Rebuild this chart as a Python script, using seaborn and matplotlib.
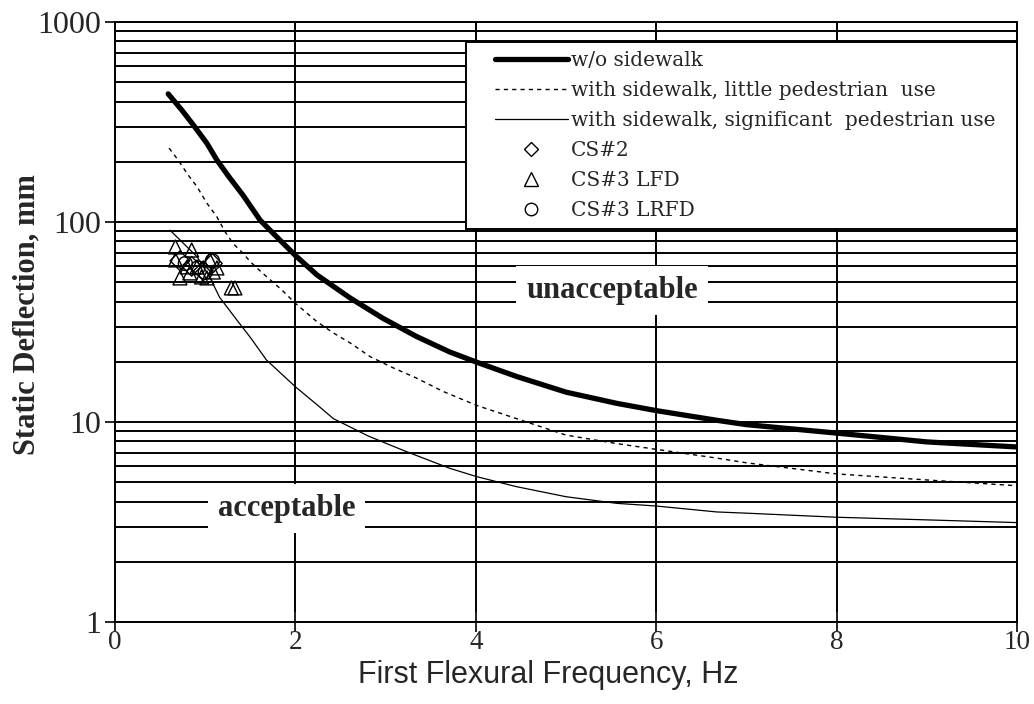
import numpy as np
import pandas as pd
import matplotlib
matplotlib.use("Agg")
import matplotlib.pyplot as plt
import seaborn as sns
from matplotlib.lines import Line2D
from matplotlib.legend_handler import HandlerLine2D
from matplotlib.ticker import LogLocator, NullFormatter, FixedLocator

# Curves (frequency in Hz, static deflection in mm)
freq_wo = [0.59, 0.74, 0.87, 1.02, 1.13, 1.26, 1.42, 1.61, 1.79, 2.0, 2.24, 2.61, 2.97,
           3.34, 3.71, 4.01, 4.45, 5.0, 5.56, 6.0, 6.67, 7.0, 8.0, 9.0, 10.0]
defl_wo = [437, 363, 305, 247, 204, 169, 136, 102, 84.5, 68, 54.3, 41.6, 33,
           26.8, 22.4, 19.9, 16.9, 14.1, 12.4, 11.4, 10.2, 9.7, 8.8, 7.95, 7.5]

freq_little = [0.60, 0.70, 0.81, 0.91, 1.02, 1.13, 1.22, 1.31, 1.42, 1.50, 1.63, 1.85, 2.0,
               2.24, 2.42, 2.61, 2.83, 3.09, 3.34, 3.64, 4.01, 4.45, 5.0, 5.56, 6.0,
               6.67, 7.0, 8.0, 9.0, 10.0]
defl_little = [234, 204, 172, 150, 124, 106, 89.5, 78, 69.7, 63.3, 55.8, 45.7, 39.2,
               31.7, 27.9, 24.8, 21.2, 18.6, 16.6, 14.2, 12.1, 10.4, 8.6, 7.8, 7.3,
               6.6, 6.25, 5.5, 5.13, 4.8]

freq_signif = [0.61, 0.91, 1.05, 1.16, 1.35, 1.50, 1.68, 2.0, 2.24, 2.42, 2.81, 3.2,
               3.71, 4.01, 4.45, 5.0, 5.56, 6.0, 6.67, 7.0, 8.0, 9.0, 10.0]
defl_signif = [91, 67, 53, 42, 32.4, 26.5, 20.4, 15.0, 12.2, 10.4, 8.5, 7.2,
               5.87, 5.33, 4.75, 4.23, 3.92, 3.8, 3.55, 3.5, 3.34, 3.24, 3.14]

# Measured bridges
cs2_f = [0.72, 0.85, 0.98, 1.08]
cs2_d = [64, 60, 57, 62]
lfd_f = [0.67, 0.85, 0.67, 0.80, 0.91, 1.05, 1.13, 0.72, 0.83, 0.96, 1.02, 1.09, 1.33, 1.29]
lfd_d = [75, 72.4, 64.6, 59.6, 59.6, 64.6, 58.9, 52.5, 55.6, 53.1, 52.5, 56.2, 46.8, 46.8]
lrfd_f = [0.78, 0.92, 1.08, 1.0]
lrfd_d = [62, 59, 64, 56]

line_names = ["w/o sidewalk",
              "with sidewalk, little pedestrian  use",
              "with sidewalk, significant  pedestrian use"]
point_names = ["CS#2", "CS#3 LFD", "CS#3 LRFD"]

curves = pd.concat([
    pd.DataFrame({"f": freq_wo, "d": defl_wo, "case": line_names[0]}),
    pd.DataFrame({"f": freq_little, "d": defl_little, "case": line_names[1]}),
    pd.DataFrame({"f": freq_signif, "d": defl_signif, "case": line_names[2]}),
])
points = pd.concat([
    pd.DataFrame({"f": cs2_f, "d": cs2_d, "case": point_names[0]}),
    pd.DataFrame({"f": lfd_f, "d": lfd_d, "case": point_names[1]}),
    pd.DataFrame({"f": lrfd_f, "d": lrfd_d, "case": point_names[2]}),
])

sns.set_style("white")
serif = ["Liberation Serif", "DejaVu Serif"]

fig = plt.figure(figsize=(10.34, 7.04), dpi=100)
ax = fig.add_axes([0.1112, 0.1165, 0.8723, 0.8523])

styles = {
    line_names[0]: dict(lw=3.8, ls="-"),
    line_names[1]: dict(lw=1.0, ls=(0, (3, 3))),
    line_names[2]: dict(lw=0.9, ls="-"),
}
for name, grp in curves.groupby("case", sort=False):
    sns.lineplot(data=grp, x="f", y="d", ax=ax, color="black", label=name,
                 zorder=3, estimator=None, sort=False, **styles[name])

sns.scatterplot(data=points, x="f", y="d", style="case",
                markers={"CS#2": "D", "CS#3 LFD": "^", "CS#3 LRFD": "o"},
                s=100, facecolor="none", edgecolor="black", linewidth=1.0,
                ax=ax, zorder=4, legend=False)

ax.set_yscale("log")
ax.set_xlim(0, 10)
ax.set_ylim(1, 1000)

ax.xaxis.set_major_locator(FixedLocator([0, 2, 4, 6, 8, 10]))
ax.yaxis.set_minor_locator(LogLocator(base=10, subs=np.arange(2, 10)))
ax.yaxis.set_minor_formatter(NullFormatter())
ax.set_yticks([1, 10, 100, 1000])
ax.set_yticklabels(["1", "10", "100", "1000"])

ax.grid(True, which="both", axis="y", color="black", lw=1.4)
ax.grid(True, which="major", axis="x", color="black", lw=1.4)
ax.set_axisbelow(True)

for side in ["top", "right", "left", "bottom"]:
    ax.spines[side].set_color("black")
    ax.spines[side].set_linewidth(1.4)

ax.tick_params(axis="x", which="major", direction="inout", length=14, width=1.4,
               bottom=True, pad=-1)
ax.tick_params(axis="y", which="major", direction="out", length=7, width=1.4,
               left=True, pad=3)
ax.tick_params(axis="y", which="minor", length=0)
for lab in ax.get_xticklabels():
    lab.set_fontfamily(serif)
    lab.set_fontsize(19.5)
for lab in ax.get_yticklabels():
    lab.set_fontfamily(serif)
    lab.set_fontsize(23)

ax.set_xlabel("First Flexural Frequency, Hz", fontsize=22,
              family=["Liberation Sans", "DejaVu Sans"])
ax.xaxis.set_label_coords(0.48, -0.063)
ax.set_ylabel("Static Deflection, mm", fontsize=22, family=serif, fontweight="bold")
ax.yaxis.set_label_coords(-0.082, 0.512)

# Region labels sit on white boxes that interrupt the grid
box = dict(facecolor="white", edgecolor="none", pad=7)
ax.text(5.51, 45.5, "unacceptable", ha="center", va="center", fontsize=22,
        family=serif, fontweight="bold", bbox=box, zorder=2.5)
ax.text(1.90, 3.7, "acceptable", ha="center", va="center", fontsize=22,
        family=serif, fontweight="bold", bbox=box, zorder=2.5)

handles, labels = ax.get_legend_handles_labels()
handles += [
    Line2D([], [], ls="none", marker="D", mfc="none", mec="black", ms=7),
    Line2D([], [], ls="none", marker="^", mfc="none", mec="black", ms=10),
    Line2D([], [], ls="none", marker="o", mfc="none", mec="black", ms=9),
]
labels += point_names
leg = ax.legend(handles, labels, loc="upper right",
                bbox_to_anchor=(0.389, 0.0, 0.611, 0.9667), mode="expand",
                borderaxespad=0, frameon=True, fancybox=False, framealpha=1,
                edgecolor="black", handlelength=4.6, handletextpad=0.15,
                labelspacing=0.55, borderpad=0.45,
                handler_map={Line2D: HandlerLine2D(xpad=1.0)},
                prop={"family": ["DejaVu Serif"], "size": 14.5})
leg.get_frame().set_linewidth(1.4)
leg.set_zorder(5)

fig.savefig("out.png", dpi=100)
